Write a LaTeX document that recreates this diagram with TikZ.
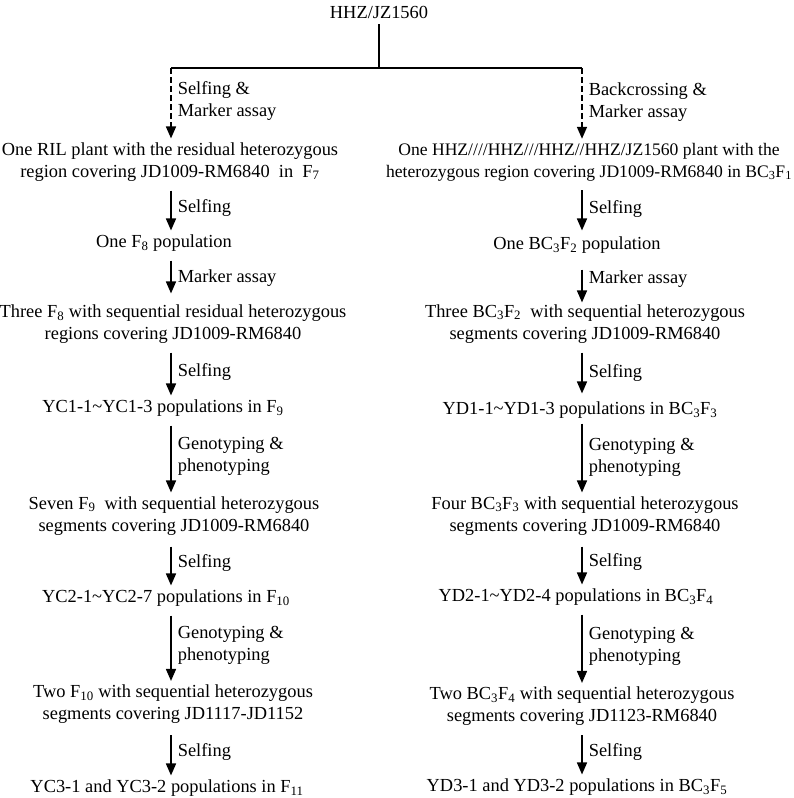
\documentclass[tikz,border=0pt]{standalone}
\usepackage{fontspec}
\setmainfont{Liberation Serif}
\usetikzlibrary{arrows.meta}

\tikzset{
    txt/.style={inner sep=0pt, align=center, font=\fontsize{18.4pt}{22pt}\selectfont},
    lbl/.style={right, inner sep=6pt, align=left, font=\fontsize{18.4pt}{22pt}\selectfont},
    arr/.style={line width=1.6pt, -{Triangle[length=12pt,width=10pt]}, shorten <=9pt, shorten >=4pt},
    darr/.style={arr, dash pattern=on 6pt off 3pt, shorten <=0pt},
}

\begin{document}
\begin{tikzpicture}[x=1pt,y=-1pt]
        \useasboundingbox (0,0) rectangle (794,798);

        \node[txt] (top) at (379, 12) {HHZ/JZ1560};
        \coordinate (split) at (379, 68);
        \coordinate (lc) at (171, 68);
        \coordinate (rc) at (582, 68);

        \draw[line width=1.6pt, shorten >=6pt] (split) -- (split |- top.south);
        \draw[line width=1.6pt] (lc) -- (rc);

        % left branch
        \node[txt] (l1) at (170, 162) {One RIL plant with the residual heterozygous\\region covering JD1009-RM6840\ \ in\ \ F\textsubscript{7}};
        \node[txt] (l2) at (164, 243) {One F\textsubscript{8} population};
        \node[txt] (l3) at (173, 324) {Three F\textsubscript{8} with sequential residual heterozygous\\regions covering JD1009-RM6840};
        \node[txt] (l4) at (163, 408) {YC1-1\textasciitilde YC1-3 populations in F\textsubscript{9}};
        \node[txt] (l5) at (174, 516) {Seven F\textsubscript{9}\ \ with sequential heterozygous\\segments covering JD1009-RM6840};
        \node[txt] (l6) at (166, 598) {YC2-1\textasciitilde YC2-7 populations in F\textsubscript{10}};
        \node[txt] (l7) at (173, 704.5) {Two F\textsubscript{10} with sequential heterozygous\\segments covering JD1117-JD1152};
        \node[txt] (l8) at (167, 788) {YC3-1 and YC3-2 populations in F\textsubscript{11}};

        \draw[darr] (lc) -- (l1.north -| lc) node[lbl, pos=0.45] {Selfing \&\\Marker assay};
        \draw[arr] (l1.south -| lc) -- (l2.north -| lc) node[lbl, midway] {Selfing};
        \draw[arr, shorten >=11pt] (l2.south -| lc) -- (l3.north -| lc) node[lbl, midway] {Marker assay};
        \draw[arr] (l3.south -| lc) -- (l4.north -| lc) node[lbl, midway] {Selfing};
        \draw[arr] (l4.south -| lc) -- (l5.north -| lc) node[lbl, midway] {Genotyping \&\\phenotyping};
        \draw[arr, shorten <=11pt] (l5.south -| lc) -- (l6.north -| lc) node[lbl, midway] {Selfing};
        \draw[arr] (l6.south -| lc) -- (l7.north -| lc) node[lbl, midway] {Genotyping \&\\phenotyping};
        \draw[arr, shorten <=11pt] (l7.south -| lc) -- (l8.north -| lc) node[lbl, midway] {Selfing};

        % right branch
        \node[txt, font=\fontsize{17.6pt}{22pt}\selectfont] (r1) at (589, 162) {One HHZ////HHZ///HHZ//HHZ/JZ1560 plant with the\\heterozygous region covering JD1009-RM6840 in BC\textsubscript{3}F\textsubscript{1}};
        \node[txt] (r2) at (577, 245) {One BC\textsubscript{3}F\textsubscript{2} population};
        \node[txt] (r3) at (585, 324) {Three BC\textsubscript{3}F\textsubscript{2}\ \ with sequential heterozygous\\segments covering JD1009-RM6840};
        \node[txt] (r4) at (580, 410) {YD1-1\textasciitilde YD1-3 populations in BC\textsubscript{3}F\textsubscript{3}};
        \node[txt] (r5) at (585, 516) {Four BC\textsubscript{3}F\textsubscript{3} with sequential heterozygous\\segments covering JD1009-RM6840};
        \node[txt] (r6) at (576, 597) {YD2-1\textasciitilde YD2-4 populations in BC\textsubscript{3}F\textsubscript{4}};
        \node[txt] (r7) at (582, 706.5) {Two BC\textsubscript{3}F\textsubscript{4} with sequential heterozygous\\segments covering JD1123-RM6840};
        \node[txt] (r8) at (577, 787) {YD3-1 and YD3-2 populations in BC\textsubscript{3}F\textsubscript{5}};

        \draw[darr] (rc) -- (r1.north -| rc) node[lbl, pos=0.45] {Backcrossing \&\\Marker assay};
        \draw[arr, shorten >=6pt] (r1.south -| rc) -- (r2.north -| rc) node[lbl, midway] {Selfing};
        \draw[arr, shorten <=16pt, shorten >=2pt] (r2.south -| rc) -- (r3.north -| rc) node[lbl, midway] {Marker assay};
        \draw[arr, shorten >=8pt] (r3.south -| rc) -- (r4.north -| rc) node[lbl, midway] {Selfing};
        \draw[arr, shorten <=5pt] (r4.south -| rc) -- (r5.north -| rc) node[lbl, midway] {Genotyping \&\\phenotyping};
        \draw[arr, shorten <=11pt] (r5.south -| rc) -- (r6.north -| rc) node[lbl, midway] {Selfing};
        \draw[arr] (r6.south -| rc) -- (r7.north -| rc) node[lbl, midway] {Genotyping \&\\phenotyping};
        \draw[arr] (r7.south -| rc) -- (r8.north -| rc) node[lbl, midway] {Selfing};

    \end{tikzpicture}
\end{document}
